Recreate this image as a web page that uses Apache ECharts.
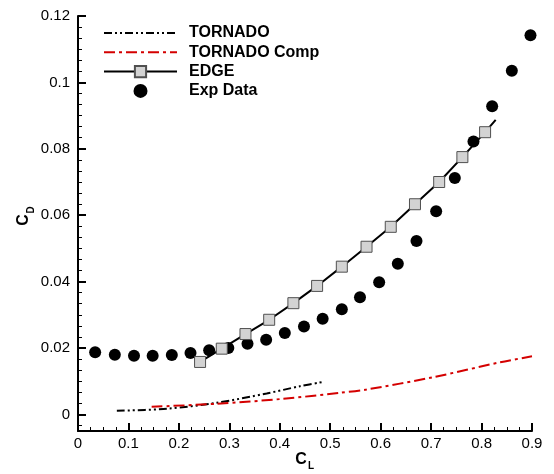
<!DOCTYPE html>
<html>
<head>
<meta charset="utf-8">
<script src="https://cdn.jsdelivr.net/npm/echarts@6/dist/echarts.min.js"></script>
<style>html,body{margin:0;padding:0;background:#fff}#c{width:554px;height:474px}</style>
</head>
<body>
<div id="c"></div>
<script>
// ---- data ----
var seriesNames = ['TORNADO', 'TORNADO Comp', 'EDGE', 'Exp Data'];

var tornadoCL = [0.077, 0.176, 0.275, 0.374, 0.440, 0.483];
var tornadoCD = [0.0011, 0.0017, 0.0035, 0.0063, 0.0085, 0.0097];

var compCL = [0.146, 0.275, 0.407, 0.519, 0.572, 0.704, 0.837, 0.900];
var compCD = [0.0023, 0.0032, 0.0047, 0.0065, 0.0075, 0.0112, 0.0157, 0.0175];

var edgeCL = [0.242, 0.285, 0.332, 0.379, 0.427, 0.474, 0.523, 0.572, 0.620, 0.668, 0.716, 0.762, 0.807, 0.828];
var edgeCD = [0.0158, 0.0198, 0.0242, 0.0285, 0.0335, 0.0387, 0.0445, 0.0505, 0.0565, 0.0633, 0.0700, 0.0775, 0.0850, 0.0887];
var edgeMarked = [1, 1, 1, 1, 1, 1, 1, 1, 1, 1, 1, 1, 1, 0];

var expCL = [0.034, 0.073, 0.111, 0.148, 0.186, 0.223, 0.260, 0.298, 0.336, 0.373, 0.410, 0.448, 0.485, 0.523, 0.559, 0.597, 0.634, 0.671, 0.710, 0.747, 0.784, 0.821, 0.860, 0.897];
var expCD = [0.0187, 0.0180, 0.0177, 0.0177, 0.0179, 0.0185, 0.0193, 0.0200, 0.0213, 0.0225, 0.0245, 0.0265, 0.0288, 0.0317, 0.0353, 0.0398, 0.0454, 0.0522, 0.0612, 0.0712, 0.0822, 0.0928, 0.1035, 0.1142];

var xMin = 0, xMax = 0.9, xStep = 0.1;
var yMin = -0.005, yMax = 0.12, yStep = 0.02;

function pairs(a, b) { return a.map(function (v, i) { return [v, b[i]]; }); }

var FONT = '"Liberation Sans", Arial, sans-serif';
var chart = echarts.init(document.getElementById('c'), null, { renderer: 'canvas' });

var edgeData = edgeCL.map(function (v, i) {
  var d = { value: [v, edgeCD[i]] };
  if (!edgeMarked[i]) d.symbol = 'none';
  return d;
});

chart.setOption({
  animation: false,
  backgroundColor: '#fff',
  grid: { left: 78, right: 22, top: 16, bottom: 43, containLabel: false },
  legend: {
    orient: 'vertical',
    left: 103, top: 25, padding: 0,
    itemWidth: 73, itemHeight: 14, itemGap: 3.3,
    selectedMode: false,
    data: [
      { name: seriesNames[0], itemStyle: { opacity: 0 } },
      { name: seriesNames[1], itemStyle: { opacity: 0 } },
      { name: seriesNames[2] },
      { name: seriesNames[3] }
    ],
    textStyle: { fontFamily: FONT, fontWeight: 'bold', fontSize: 16, color: '#000', lineHeight: 14, padding: [0, 0, 0, 7] }
  },
  xAxis: {
    type: 'value', min: xMin, max: xMax, interval: xStep,
    axisLine: { onZero: false, lineStyle: { color: '#000', width: 2 } },
    axisTick: { inside: true, length: 8, lineStyle: { color: '#000', width: 2 } },
    minorTick: { show: true, splitNumber: 4, length: 4, lineStyle: { color: '#000', width: 1 } },
    splitLine: { show: false },
    axisLabel: { margin: 5, fontFamily: FONT, fontSize: 15, color: '#000' }
  },
  yAxis: {
    type: 'value', min: yMin, max: yMax, splitNumber: 6, minInterval: yStep, maxInterval: yStep,
    axisLine: { onZero: false, lineStyle: { color: '#000', width: 2 } },
    axisTick: { inside: true, length: 8, lineStyle: { color: '#000', width: 2 } },
    minorTick: { show: true, splitNumber: 6, length: 4, lineStyle: { color: '#000', width: 1 } },
    splitLine: { show: false },
    axisLabel: { margin: 8, showMinLabel: false, fontFamily: FONT, fontSize: 15, color: '#000' }
  },
  graphic: [
    { type: 'text', x: 301, y: 459.5, style: { text: 'C', font: 'bold 16px ' + FONT, fill: '#000', align: 'center', verticalAlign: 'middle' } },
    { type: 'text', x: 311, y: 466.5, style: { text: 'L', font: 'bold 10px ' + FONT, fill: '#000', align: 'center', verticalAlign: 'middle' } },
    { type: 'group', x: 24, y: 220, rotation: Math.PI / 2, children: [
      { type: 'text', x: 0, y: 0, style: { text: 'C', font: 'bold 16px ' + FONT, fill: '#000', align: 'center', verticalAlign: 'middle' } },
      { type: 'text', x: 10, y: 7, style: { text: 'D', font: 'bold 10px ' + FONT, fill: '#000', align: 'center', verticalAlign: 'middle' } }
    ] }
  ],
  series: [
    { name: seriesNames[0], type: 'line', data: pairs(tornadoCL, tornadoCD), smooth: 0.3, symbol: 'none', z: 3,
      itemStyle: { color: '#000' }, lineStyle: { color: '#000', width: 2, type: [8, 3, 2, 3, 2, 3] } },
    { name: seriesNames[1], type: 'line', data: pairs(compCL, compCD), smooth: 0.3, symbol: 'none', z: 3,
      itemStyle: { color: '#d40000' }, lineStyle: { color: '#d40000', width: 2, type: [11, 4, 3, 4] } },
    { name: seriesNames[2], type: 'line', data: edgeData, symbol: 'rect', symbolSize: 11, z: 5,
      itemStyle: { color: '#d3d3d3', borderColor: '#505050', borderWidth: 1 }, lineStyle: { color: '#000', width: 2 } },
    { name: seriesNames[3], type: 'scatter', data: pairs(expCL, expCD), symbol: 'circle', symbolSize: 12, z: 4,
      itemStyle: { color: '#000', opacity: 1 } }
  ]
});
</script>
</body>
</html>
